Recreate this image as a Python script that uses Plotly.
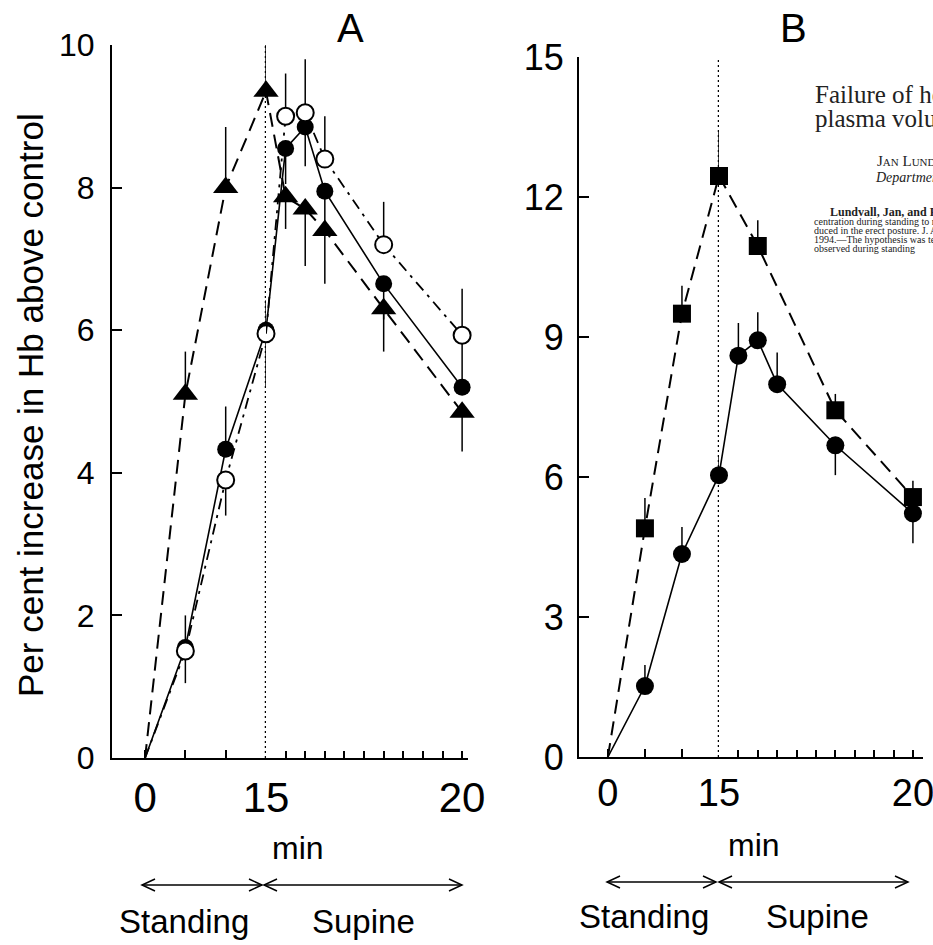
import plotly.graph_objects as go

# ---------------- data ----------------
# time in minutes; standing phase 0-15, supine phase after 15
STAND_T = [0, 5, 10, 15]
SUPINE_T = [15.5, 16, 16.5, 18, 20]
SQ_SUPINE_T = [16, 18, 20]

# Panel A  (per cent increase in Hb above control)
a_tri_stand = [0, 5.1, 8.0, 9.35]
a_tri_stand_up = [0.6, 0.85, 0.95]
a_tri_stand_dn = [0, 0, 0]
a_tri_sup = [7.87, 7.7, 7.4, 6.3, 4.85]
a_tri_sup_up = [0, 0, 0, 0, 0]
a_tri_sup_dn = [0.45, 0.8, 0.75, 0.6, 0.55]

a_fill_stand = [0, 1.55, 4.33, 6.0]
a_fill_stand_up = [0.45, 0.6, 0.42]
a_fill_stand_dn = [0, 0, 0]
a_fill_sup = [8.55, 8.85, 7.95, 6.65, 5.2]
a_fill_sup_up = [0, 0, 0, 0, 0.8]
a_fill_sup_dn = [0.5, 0.55, 0.55, 0.5, 0]

a_open_stand = [0, 1.5, 3.9, 5.95]
a_open_stand_up = [0, 0, 0]
a_open_stand_dn = [0.45, 0.5, 0.75]
a_open_sup = [9.0, 9.05, 8.4, 7.2, 5.93]
a_open_sup_up = [0.6, 0.75, 0.6, 0.6, 0.65]
a_open_sup_dn = [0, 0, 0, 0, 0]

# Panel B
b_sq_stand = [0, 4.9, 9.5, 12.45]
b_sq_stand_up = [0.65, 0.6, 0.95]
b_sq_stand_dn = [0, 0, 0]
b_sq_sup = [10.95, 7.43, 5.57]
b_sq_sup_up = [0.55, 0.35, 0.35]
b_sq_sup_dn = [0, 0, 0]

b_ci_stand = [0, 1.52, 4.35, 6.04]
b_ci_stand_up = [0.45, 0.58, 0.4]
b_ci_stand_dn = [0, 0, 0]
b_ci_sup = [8.6, 8.93, 7.99, 6.68, 5.22]
b_ci_sup_up = [0.7, 0.6, 0.68, 0, 0]
b_ci_sup_dn = [0, 0, 0, 0.64, 0.64]

A_YTICKS = [0, 2, 4, 6, 8, 10]
B_YTICKS = [0, 3, 6, 9, 12, 15]

# ---------------- layout helpers ----------------
W, H = 933, 945
SANS = "Liberation Sans, Arial, sans-serif"
SERIF = "Liberation Serif, Times New Roman, serif"


def fx(p):
    return p / W


def fy(p):
    return 1 - p / H


fig = go.Figure()


def err(up, dn):
    return dict(type="data", symmetric=False, array=up, arrayminus=dn,
                color="black", thickness=1.5, width=0)


def add_series(xs, xp, ya, st_y, st_up, st_dn, sp_t, sp_y, sp_up, sp_dn,
               marker, line):
    # connecting lines for each phase
    fig.add_trace(go.Scatter(x=STAND_T, y=st_y, xaxis=xs, yaxis=ya,
                             mode="lines", line=line, hoverinfo="skip"))
    fig.add_trace(go.Scatter(x=[STAND_T[-1]] + sp_t, y=[st_y[-1]] + sp_y,
                             xaxis=xp, yaxis=ya, mode="lines", line=line,
                             hoverinfo="skip"))
    # markers with error bars
    fig.add_trace(go.Scatter(x=STAND_T[1:], y=st_y[1:], xaxis=xs, yaxis=ya,
                             mode="markers", marker=marker,
                             error_y=err(st_up, st_dn), cliponaxis=False))
    fig.add_trace(go.Scatter(x=sp_t, y=sp_y, xaxis=xp, yaxis=ya,
                             mode="markers", marker=marker,
                             error_y=err(sp_up, sp_dn), cliponaxis=False))


# posture change marker (dotted vertical line at 15 min)
dotted = dict(color="black", width=2.5, dash="2px,3px")
fig.add_trace(go.Scatter(x=[STAND_T[-1]] * 2, y=[0, A_YTICKS[-1]], xaxis="x",
                         yaxis="y", mode="lines", line=dotted,
                         hoverinfo="skip"))
fig.add_trace(go.Scatter(x=[STAND_T[-1]] * 2, y=[0, B_YTICKS[-1]], xaxis="x3",
                         yaxis="y2", mode="lines", line=dotted,
                         hoverinfo="skip"))

dashed = dict(color="black", width=2, dash="14px,8px")
solid = dict(color="black", width=1.6)
dashdot = dict(color="black", width=1.8, dash="11px,6px,3px,6px")

# Panel A
add_series("x", "x2", "y", a_tri_stand, a_tri_stand_up, a_tri_stand_dn,
           SUPINE_T, a_tri_sup, a_tri_sup_up, a_tri_sup_dn,
           dict(symbol="triangle-up", size=22, color="black"), dashed)
add_series("x", "x2", "y", a_fill_stand, a_fill_stand_up, a_fill_stand_dn,
           SUPINE_T, a_fill_sup, a_fill_sup_up, a_fill_sup_dn,
           dict(symbol="circle", size=17, color="black"), solid)
add_series("x", "x2", "y", a_open_stand, a_open_stand_up, a_open_stand_dn,
           SUPINE_T, a_open_sup, a_open_sup_up, a_open_sup_dn,
           dict(symbol="circle", size=17, color="white",
                line=dict(color="black", width=2)), dashdot)

# Panel B
add_series("x3", "x4", "y2", b_sq_stand, b_sq_stand_up, b_sq_stand_dn,
           SQ_SUPINE_T, b_sq_sup, b_sq_sup_up, b_sq_sup_dn,
           dict(symbol="square", size=18, color="black"), dashed)
add_series("x3", "x4", "y2", b_ci_stand, b_ci_stand_up, b_ci_stand_dn,
           SUPINE_T, b_ci_sup, b_ci_sup_up, b_ci_sup_dn,
           dict(symbol="circle", size=18, color="black"), solid)

# ---------------- axes ----------------
axis_common = dict(showgrid=False, zeroline=False, showline=True,
                   linecolor="black", linewidth=2, ticks="inside",
                   tickcolor="black", tickwidth=1.5, fixedrange=True,
                   automargin=False, ticklabeloverflow="allow")

sup_ticks = [15 + 0.5 * i for i in range(1, 11)]
sup_text = ["" for _ in sup_ticks]
sup_text[-1] = "20"

fig.update_layout(
    template="none",
    width=W, height=H, margin=dict(l=0, r=0, t=0, b=0, pad=0),
    autosize=False,
    paper_bgcolor="white", plot_bgcolor="rgba(0,0,0,0)", showlegend=False,
    font=dict(family=SANS, color="black"),
    xaxis=dict(axis_common, domain=[fx(112), fx(266)], range=[-4.1, 15],
               anchor="y", tickvals=STAND_T, ticktext=["0", "", "", "15"],
               ticklen=8, tickfont=dict(size=42), ticklabelstandoff=2),
    xaxis2=dict(axis_common, domain=[fx(266), fx(468)], range=[15, 20.15],
                anchor="y", tickvals=sup_ticks, ticktext=sup_text,
                ticklen=7, tickfont=dict(size=42), ticklabelstandoff=2),
    yaxis=dict(axis_common, domain=[fy(758), fy(45)], range=[0, 10],
               anchor="x", tickvals=A_YTICKS,
               ticktext=[str(v) for v in A_YTICKS], ticklen=10,
               tickfont=dict(size=32), ticklabelstandoff=9),
    xaxis3=dict(axis_common, domain=[fx(579), fx(719)], range=[-3.9, 15],
                anchor="y2", tickvals=STAND_T, ticktext=["0", "", "", "15"],
                ticklen=8, tickfont=dict(size=38), ticklabelstandoff=1),
    xaxis4=dict(axis_common, domain=[fx(719), fx(923)], range=[15, 20.26],
                anchor="y2", tickvals=sup_ticks, ticktext=sup_text,
                ticklen=7, tickfont=dict(size=38), ticklabelstandoff=1),
    yaxis2=dict(axis_common, domain=[fy(757), fy(57)], range=[0, 15],
                anchor="x3", tickvals=B_YTICKS,
                ticktext=[str(v) for v in B_YTICKS], ticklen=10,
                tickfont=dict(size=36), ticklabelstandoff=6),
)

# ---------------- text ----------------
ann = []


def text(x, y, s, size, family=SANS, xanchor="center", angle=0, color="black"):
    ann.append(dict(x=fx(x), y=fy(y), xref="paper", yref="paper", text=s,
                    showarrow=False, xanchor=xanchor, yanchor="middle",
                    textangle=angle,
                    font=dict(size=size, family=family, color=color)))


text(350, 28, "A", 40)
text(793, 28, "B", 40)
text(30, 405, "Per cent increase in Hb above control", 35, angle=-90)
text(298, 848, "min", 32)
text(754, 845, "min", 32)
text(184, 921, "Standing", 33)
text(363, 921, "Supine", 33)
text(644, 916, "Standing", 33)
text(817, 916, "Supine", 33)

# article heading printed beside panel B
ink = "#222"
text(813, 94, "Failure of hemoconcentration during standing to reveal", 25,
     SERIF, "left", color=ink)
text(813, 119, "plasma volume decline induced in the erect posture", 25,
     SERIF, "left", color=ink)
text(875, 161, "J<span style='font-size:11px'>AN</span> L<span style='font-size:11px'>UNDVALL</span>",
     15, SERIF, "left", color=ink)
text(873, 177, "<i>Department of Physiology</i>", 14, SERIF, "left", color=ink)
text(828, 212, "<b>Lundvall, Jan, and Per Bjerkhoel.</b>", 12, SERIF, "left", color=ink)
text(812, 221, "centration during standing to reveal plasma volume", 10, SERIF, "left", color=ink)
text(812, 230, "duced in the erect posture. J. Appl. Physiol.", 10, SERIF, "left", color=ink)
text(812, 239, "1994.\u2014The hypothesis was tested that", 10, SERIF, "left", color=ink)
text(812, 248, "observed during standing", 10, SERIF, "left", color=ink)

fig.update_layout(annotations=ann)

# ---------------- posture arrows ----------------
shapes = [dict(type="rect", xref="paper", yref="paper", x0=fx(805), x1=fx(933),
               y0=fy(249), y1=fy(262), fillcolor="white", line=dict(width=0),
               layer="above")]


def double_arrow(x0, x1, y):
    shapes.append(dict(type="line", xref="paper", yref="paper", x0=fx(x0), x1=fx(x1),
                       y0=fy(y), y1=fy(y), line=dict(color="black", width=1.5)))
    for tip, d in ((x0, 1), (x1, -1)):
        path = "M {} {} L {} {} L {} {}".format(
            fx(tip + d * 13), fy(y - 6), fx(tip), fy(y), fx(tip + d * 13), fy(y + 6))
        shapes.append(dict(type="path", xref="paper", yref="paper", path=path,
                           line=dict(color="black", width=1.5)))


double_arrow(142, 262, 885)
double_arrow(264, 462, 885)
double_arrow(607, 716, 882)
double_arrow(719, 908, 882)

fig.update_layout(shapes=shapes)

fig.write_html("out.html")
